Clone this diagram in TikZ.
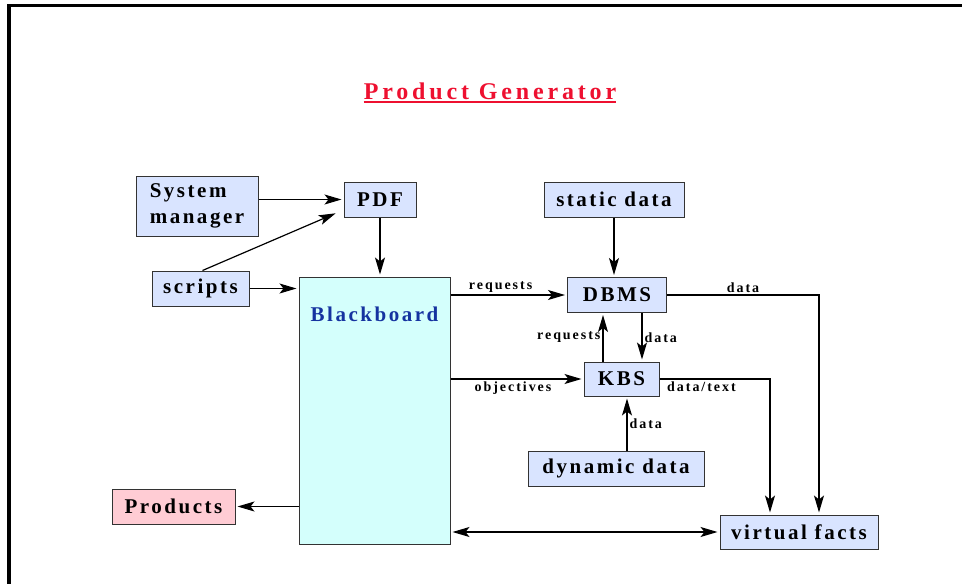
\documentclass[tikz,border=0pt]{standalone}
\usepackage{fontspec}
\setmainfont{Liberation Serif}
\newfontfamily\spacedbig[LetterSpace=12]{Liberation Serif}
\newfontfamily\spacedsmall[LetterSpace=14]{Liberation Serif}
\newfontfamily\spacedtitle[LetterSpace=16]{Liberation Serif}
\usetikzlibrary{arrows.meta}
\definecolor{boxfill}{HTML}{D9E4FF}
\definecolor{bbfill}{HTML}{D4FFFC}
\definecolor{prodfill}{HTML}{FFCCD4}
\definecolor{bbtext}{HTML}{1533A0}
\definecolor{titlered}{HTML}{EE1030}
\definecolor{edge}{HTML}{333333}
\tikzset{
  tip/.tip={Stealth[length=17pt,width=10pt,inset=4pt]},
  box/.style={draw=edge, line width=1pt, fill=boxfill, inner sep=0pt, align=center,
    font=\spacedbig\bfseries\fontsize{21}{26}\selectfont},
  lbl/.style={font=\spacedsmall\bfseries\fontsize{14}{16}\selectfont, inner sep=2pt},
  arr/.style={line width=1.2pt, -tip, shorten >=2pt},
  darr/.style={line width=1.2pt, tip-tip, shorten >=2pt, shorten <=2pt}
}
\begin{document}
\begin{tikzpicture}[x=1pt,y=-1pt]
\useasboundingbox (0,0) rectangle (962,584);
\fill[white] (0,0) rectangle (962,584);
% frame
\draw[line width=3.6pt, line join=miter] (9,584) -- (9,5.5) -- (962,5.5);
% title
\node[font=\spacedtitle\bfseries\fontsize{24}{27}\selectfont, text=titlered, inner sep=0pt, anchor=base] (title) at (490,99) {Product Generator};
\draw[titlered, line width=2pt] ([yshift=-3pt]title.base west) -- ([yshift=-3pt]title.base east);
% boxes
\node[box, minimum width=122pt, minimum height=60pt, align=left] (sysman) at (197,206) {System\\manager};
\node[box, minimum width=72pt, minimum height=35pt] (pdf) at (380,199.5) {PDF};
\node[box, minimum width=97pt, minimum height=35pt] (scripts) at (200.5,288.5) {scripts};
\node[box, fill=bbfill, minimum width=151pt, minimum height=267pt] (bb) at (374.5,410.5) {};
\node[font=\spacedbig\bfseries\fontsize{21}{26}\selectfont, text=bbtext, inner sep=0pt] (bblabel) at (374.5,314) {Blackboard};
\node[box, minimum width=140pt, minimum height=35pt] (static) at (614,199.5) {static data};
\node[box, minimum width=99pt, minimum height=35pt] (dbms) at (617,295) {DBMS};
\node[box, minimum width=75pt, minimum height=34pt] (kbs) at (621.5,379) {KBS};
\node[box, minimum width=176pt, minimum height=35pt] (dyn) at (616,468.5) {dynamic data};
\node[box, fill=prodfill, minimum width=123pt, minimum height=35pt] (products) at (173.5,506.5) {Products};
\node[box, minimum width=158pt, minimum height=34pt] (vf) at (799,532) {virtual facts};
% connectors
\draw[arr] (sysman.east |- pdf.west) -- (pdf.west);
\draw[arr] ([xshift=2pt]scripts.north) -- ([shift={(-6pt,5pt)}]pdf.south west);
\draw[arr] (pdf.south) -- (pdf.south |- bb.north);
\draw[arr] (scripts.east) -- (scripts.east -| bb.west);
\draw[arr] (bb.east |- dbms.west) -- node[lbl, above, pos=0.43] {requests} (dbms.west);
\draw[arr] (static.south) -- (static.south |- dbms.north);
\draw[arr] ([xshift=-18.5pt]kbs.north) -- node[lbl, left] {requests} ([xshift=-18.5pt]kbs.north |- dbms.south);
\draw[arr] ([xshift=20.5pt]kbs.north |- dbms.south) -- node[lbl, right] {data} ([xshift=20.5pt]kbs.north);
\draw[arr] (bb.east |- kbs.west) -- node[lbl, below, pos=0.47] {objectives} (kbs.west);
\draw[arr] (dbms.east) -| node[lbl, above, pos=0.25] {data} ([xshift=20pt]vf.north);
\draw[arr] (kbs.east) -| node[lbl, below, pos=0.19] {data/text} ([xshift=-29pt]vf.north);
\draw[arr] ([xshift=11pt]dyn.north) -- node[lbl, right] {data} ([xshift=11pt]dyn.north |- kbs.south);
\draw[arr] (bb.west |- products.east) -- (products.east);
\draw[darr] (bb.east |- vf.west) -- (vf.west);
\end{tikzpicture}
\end{document}
